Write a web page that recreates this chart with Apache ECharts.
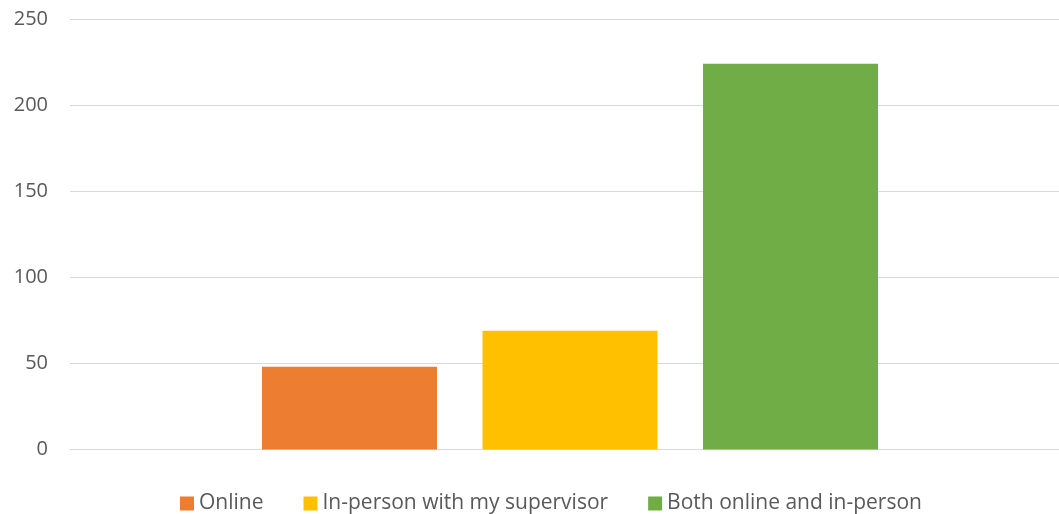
<!DOCTYPE html>
<html>
<head>
<meta charset="utf-8">
<script src="https://cdn.jsdelivr.net/npm/echarts@6/dist/echarts.min.js"></script>
<style>
  html, body { margin: 0; padding: 0; background: #fff; }
  #chart { width: 1059px; height: 514px; }
</style>
</head>
<body>
<div id="chart"></div>
<script>
// Chart data
const categories = [""];
const seriesNames = ["Online", "In-person with my supervisor", "Both online and in-person"];
const seriesValues = [48, 69, 224];
const seriesColors = ["#ED7D31", "#FFC000", "#70AD47"];
const yTicks = { min: 0, max: 250, step: 50 };

const chart = echarts.init(document.getElementById("chart"));

chart.setOption({
  animation: false,
  textStyle: { fontFamily: "Open Sans" },
  grid: { left: 70, right: -11, top: 19, bottom: 64.5, outerBoundsMode: "none", containLabel: false },
  legend: {
    top: 488,
    left: 175,
    itemWidth: 14,
    itemHeight: 14,
    itemGap: 40,
    icon: "rect",
    textStyle: { fontSize: 21, color: "#595959", fontFamily: "Open Sans" },
    data: seriesNames
  },
  xAxis: {
    type: "category",
    data: categories,
    axisLine: { show: true, lineStyle: { color: "#D9D9D9", width: 1 } },
    axisTick: { show: false },
    axisLabel: { show: false }
  },
  yAxis: {
    type: "value",
    min: yTicks.min,
    max: yTicks.max,
    interval: yTicks.step,
    axisLine: { show: false },
    axisTick: { show: false },
    axisLabel: { fontSize: 20, color: "#595959", margin: 22, fontFamily: "Open Sans" },
    splitLine: { show: true, lineStyle: { color: "#D9D9D9", width: 1 } }
  },
  series: seriesNames.map((name, i) => ({
    name: name,
    type: "bar",
    data: [seriesValues[i]],
    barWidth: 175,
    barGap: "26%",
    itemStyle: { color: seriesColors[i] }
  }))
});
</script>
</body>
</html>
